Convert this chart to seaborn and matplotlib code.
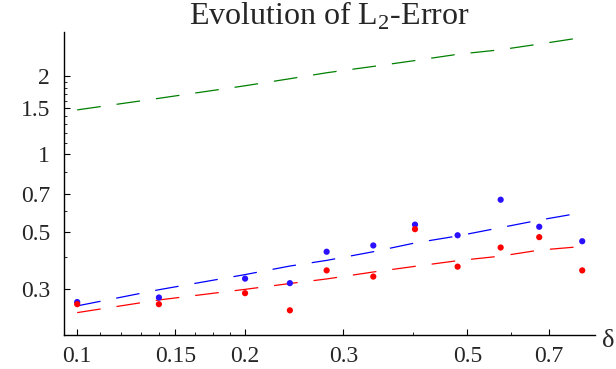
import numpy as np
import pandas as pd
import seaborn as sns
import matplotlib.pyplot as plt
from matplotlib.ticker import NullFormatter

# ------------------- Data -------------------
delta = [0.1, 0.1401, 0.1999, 0.2405, 0.2799, 0.3393, 0.4030, 0.4805, 0.5739, 0.6729, 0.8035]

err_blue = [0.268, 0.279, 0.330, 0.317, 0.419, 0.443, 0.533, 0.485, 0.665, 0.523, 0.460]
err_red = [0.263, 0.263, 0.290, 0.249, 0.355, 0.336, 0.512, 0.367, 0.435, 0.477, 0.355]

fit_green = [1.477, 1.637, 1.83, 1.948, 2.054, 2.173, 2.289, 2.42, 2.52, 2.65, 2.81]
fit_blue = [0.259, 0.299, 0.342, 0.369, 0.388, 0.419, 0.453, 0.482, 0.519, 0.555, 0.593]
fit_red = [0.244, 0.273, 0.300, 0.316, 0.329, 0.350, 0.368, 0.387, 0.403, 0.425, 0.439]

xticks = [0.1, 0.15, 0.2, 0.3, 0.5, 0.7]
xtick_labels = ['0.1', '0.15', '0.2', '0.3', '0.5', '0.7']
xminor = [0.11, 0.12, 0.13, 0.14, 0.1625, 0.175, 0.1875, 0.4, 0.6]
yticks = [0.3, 0.5, 0.7, 1, 1.5, 2]
ytick_labels = ['0.3', '0.5', '0.7', '1', '1.5', '2']
yminor = [0.4, 0.6, 0.85, 1.1, 1.2, 1.3, 1.4, 1.6, 1.7, 1.8, 1.9]

df = pd.DataFrame({'delta': delta, 'blue': err_blue, 'red': err_red,
                   'g_fit': fit_green, 'b_fit': fit_blue, 'r_fit': fit_red})

# ------------------- Style -------------------
sns.set_style('white')
plt.rcParams['font.family'] = ['Liberation Serif', 'DejaVu Serif']
plt.rcParams['mathtext.fontset'] = 'custom'
plt.rcParams['mathtext.rm'] = 'Liberation Serif'

fig = plt.figure(figsize=(6.16, 3.69), dpi=100)
ax = fig.add_axes([64 / 616, 1 - 335 / 369, 531 / 616, 303 / 369])
ax.set_xscale('log')
ax.set_yscale('log')

# dashed fit curves
dash = (0, (19, 12.8))
sns.lineplot(data=df, x='delta', y='g_fit', color='#008000', lw=0.9, linestyle=dash, ax=ax)
sns.lineplot(data=df, x='delta', y='b_fit', color='#0000ff', lw=0.9, linestyle=dash, ax=ax)
sns.lineplot(data=df, x='delta', y='r_fit', color='#ff0000', lw=0.9, linestyle=dash, ax=ax)

# measured errors
sns.scatterplot(data=df, x='delta', y='blue', color='#2a10ff', s=20, edgecolor='none', ax=ax, zorder=3)
sns.scatterplot(data=df, x='delta', y='red', color='#ff0000', s=20, edgecolor='none', ax=ax, zorder=3)

ax.set_xlim(0.0947, 0.847)
ax.set_ylim(0.2, 2.95)

ax.set_xticks(xticks)
ax.set_xticklabels(xtick_labels)
ax.set_xticks(xminor, minor=True)
ax.xaxis.set_minor_formatter(NullFormatter())
ax.set_yticks(yticks)
ax.set_yticklabels(ytick_labels)
ax.set_yticks(yminor, minor=True)
ax.yaxis.set_minor_formatter(NullFormatter())

ax.tick_params(axis='both', which='major', direction='in', length=4, width=0.8,
               labelsize=17, color='black', left=True, bottom=True)
ax.tick_params(axis='both', which='minor', direction='in', length=2.5, width=0.6,
               color='black', left=True, bottom=True)
ax.tick_params(axis='y', which='major', pad=10)
ax.tick_params(axis='x', which='major', pad=8)

sns.despine(ax=ax)
for side in ['left', 'bottom']:
    ax.spines[side].set_color('black')
    ax.spines[side].set_linewidth(1.0)

ax.set_xlabel('')
ax.set_ylabel('')
ax.set_title('Evolution of L$_{2}$-Error', fontsize=23, pad=1)
fig.text(602 / 616, 1 - 341 / 369, 'δ', fontsize=19, ha='left', va='center')

plt.savefig('out.png', dpi=100)
